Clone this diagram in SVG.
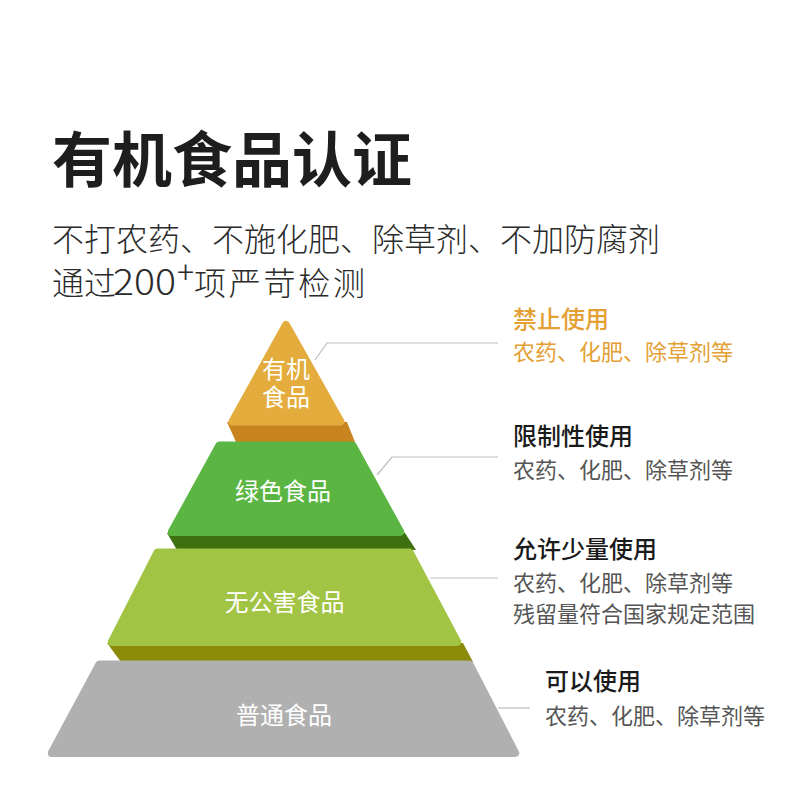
<svg xmlns="http://www.w3.org/2000/svg" width="800" height="800" viewBox="0 0 800 800">
<style>
text{font-family:"Noto Sans CJK SC","Noto Sans",sans-serif}
.title{font-size:60px;font-weight:700;fill:#1e1e1e}
.sub{font-size:32px;fill:#2a2a2a;font-weight:300}
.tier{stroke-width:8;stroke-linejoin:round}
.lbl{fill:#fff;font-size:24px;text-anchor:middle}
.head{font-size:24px;font-weight:500;fill:#1a1a1a}
.det{font-size:22px;fill:#555}
.org{fill:#e3a033}
.lead{fill:none;stroke:#bdbdbd;stroke-width:1.2}
</style>
<rect width="800" height="800" fill="#fff"/>
<text class="title" x="52" y="182">有机食品认证</text>
<text class="sub" x="52" y="251">不打农药、不施化肥、除草剂、不加防腐剂</text>
<text class="sub" y="295"><tspan x="52">通过</tspan><tspan x="113" font-size="35" textLength="63" lengthAdjust="spacingAndGlyphs">200</tspan></text>
<text class="sub" x="177" y="284" font-size="22">+</text>
<text class="sub" x="194" y="295" font-size="34" textLength="171">项严苛检测</text>

<g id="bands">
<polygon points="227,422 347,422 355,442 236,442" fill="#c9841f"/>
<polygon points="167,533 405,533 416,550 177,550" fill="#3e7010"/>
<polygon points="107,643 463,643 473,662 121,662" fill="#8b8a09"/>
</g>

<g id="connectors">
<polyline class="lead" points="315,360 327,343 498,343"/>
<polyline class="lead" points="377,475 392,457 498,457"/>
<polyline class="lead" points="430,578 498,578"/>
<polyline class="lead" points="498,708 530,708"/>
</g>

<g id="tier-gray">
<polygon class="tier" points="99.4,664.5 469.6,664.5 515.2,753 51.8,753" fill="#b0b0b0" stroke="#b0b0b0"/>
<text class="lbl" x="284" y="724">普通食品</text>
</g>
<g id="tier-lightgreen">
<polygon class="tier" points="157.4,552.5 409.6,552.5 457.2,642 111.8,642" fill="#a2c444" stroke="#a2c444"/>
<text class="lbl" x="284.5" y="611">无公害食品</text>
</g>
<g id="tier-green">
<polygon class="tier" points="219.4,445.5 352.6,445.5 400.2,532 171.8,532" fill="#5bb543" stroke="#5bb543"/>
<text class="lbl" x="283" y="500">绿色食品</text>
</g>
<g id="tier-organic">
<polygon class="tier" points="286,325 340.4,421.5 232.6,421.5" fill="#e3ac3c" stroke="#e3ac3c"/>
<text class="lbl" x="286" y="378" font-size="21">有机</text>
<text class="lbl" x="286" y="406" font-size="21">食品</text>
</g>

<g id="note-organic">
<text class="head org" x="513" y="328">禁止使用</text>
<text class="det org" x="513" y="360">农药、化肥、除草剂等</text>
</g>
<g id="note-green">
<text class="head" x="513" y="445">限制性使用</text>
<text class="det" x="513" y="478">农药、化肥、除草剂等</text>
</g>
<g id="note-pollutionfree">
<text class="head" x="513" y="558">允许少量使用</text>
<text class="det" x="513" y="591">农药、化肥、除草剂等</text>
<text class="det" x="513" y="622">残留量符合国家规定范围</text>
</g>
<g id="note-ordinary">
<text class="head" x="545" y="690">可以使用</text>
<text class="det" x="545" y="724">农药、化肥、除草剂等</text>
</g>
</svg>
